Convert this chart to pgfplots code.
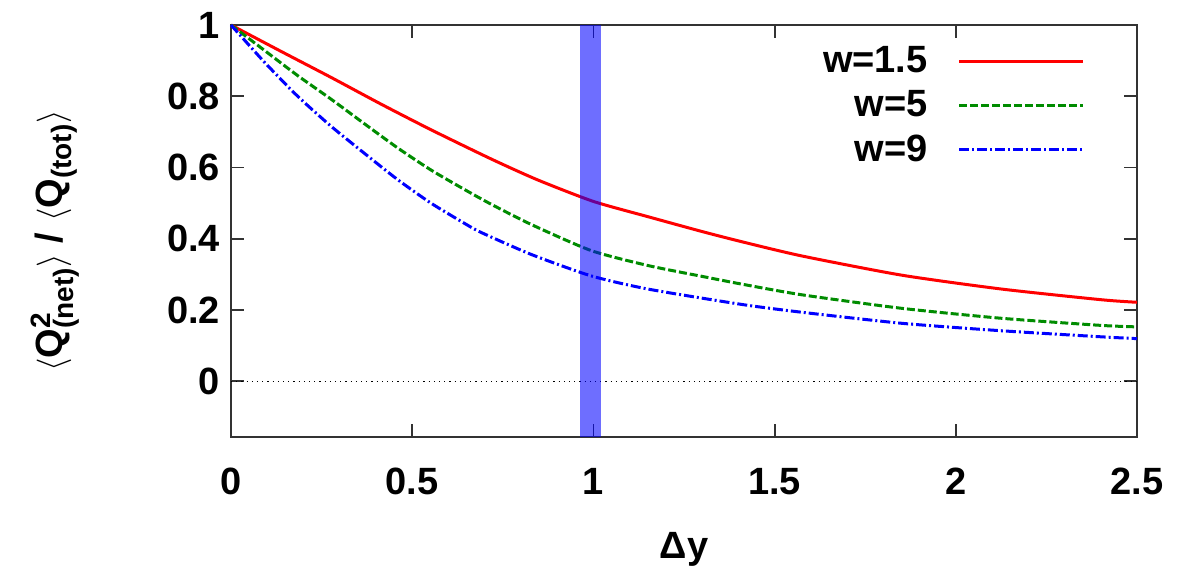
\documentclass[border=0pt]{standalone}
\usepackage{pgfplots}
\pgfplotsset{compat=1.18}
\usepackage{fontspec}
\setmainfont{Liberation Sans}
\definecolor{cred}{RGB}{255,0,0}
\definecolor{cgreen}{RGB}{0,140,0}
\definecolor{cblue}{RGB}{0,0,255}
\newcommand{\bigf}{\fontsize{19}{22}\selectfont\bfseries}
\newcommand{\smf}{\fontsize{14}{16}\selectfont\bfseries}
\begin{document}
\begin{tikzpicture}
\begin{axis}[
  scale only axis, width=453pt, height=206pt,
  xmin=0, xmax=2.5, ymin=-0.156, ymax=1,
  xtick={0,0.5,1,1.5,2,2.5},
  ytick={0,0.2,0.4,0.6,0.8,1},
  xticklabels={0,0.5,1,1.5,2,2.5},
  yticklabels={0,0.2,0.4,0.6,0.8,1},
  tick align=inside, major tick length=6.5pt,
  axis line style={black!80, line width=0.9pt},
  every tick/.style={black!80, line width=0.9pt},
  /pgf/number format/assume math mode=true,
  ticklabel style={font=\bigf},
  xticklabel style={yshift=-12pt},
  yticklabel style={xshift=-2pt},
  every axis x label/.style={at={(axis description cs:0.5,0)}, anchor=center, yshift=-56pt},
  every axis y label/.style={at={(axis description cs:-0.1943,0.476)}, anchor=center, rotate=90},
  xlabel={\bigf Δy},
  ylabel={\bigf $\langle$Q$^{\hbox{\smf 2}}_{\hbox{\smf(net)}}\rangle$ / $\langle$Q$_{\hbox{\smf(tot)}}\rangle$},
  legend plot pos=right,
  legend cell align=right,
  legend style={at={(rel axis cs:0.9426,0.958)}, anchor=north east, draw=none, fill=none,
    inner sep=0pt, font=\bigf, row sep=3.5pt,
    /tikz/every odd column/.append style={column sep=13pt}},
  legend image code/.code={\draw[#1] (0pt,0pt) -- (62pt,0pt);},
  clip=false,
]
\addplot[cred, line width=1.5pt, smooth, tension=0.4] coordinates {
(0,1) (0.138,0.926) (0.276,0.853) (0.414,0.778) (0.552,0.706) (0.718,0.624) (0.847,0.565) (1.0,0.505) (1.151,0.462) (1.298,0.421) (1.409,0.392) (1.575,0.352) (1.851,0.298) (2.127,0.259) (2.403,0.229) (2.5,0.222)};
\addlegendentry{w=1.5}
\addplot[cgreen, line width=1.5pt, smooth, tension=0.4, dash pattern=on 4pt off 1.5pt] coordinates {
(0,1) (0.092,0.929) (0.184,0.858) (0.276,0.792) (0.368,0.723) (0.46,0.655) (0.552,0.593) (0.645,0.538) (0.718,0.497) (0.829,0.44) (0.994,0.367) (1.151,0.325) (1.298,0.295) (1.409,0.273) (1.575,0.243) (1.851,0.205) (2.127,0.177) (2.403,0.157) (2.5,0.153)};
\addlegendentry{w=5}
\addplot[cblue, line width=1.5pt, smooth, tension=0.4, dash pattern=on 5pt off 1.5pt on 1pt off 1.5pt] coordinates {
(0,1) (0.092,0.896) (0.184,0.80) (0.276,0.716) (0.368,0.64) (0.46,0.566) (0.552,0.5) (0.645,0.443) (0.69,0.418) (0.829,0.356) (0.994,0.296) (1.151,0.259) (1.409,0.216) (1.575,0.194) (1.851,0.163) (2.127,0.142) (2.403,0.125) (2.5,0.12)};
\addlegendentry{w=9}
\addplot[black, line width=0.6pt, dotted, forget plot] coordinates {(0,0) (2.5,0)};
\addplot[draw=none, fill=blue, fill opacity=0.57, forget plot] coordinates {(0.963,-0.156) (1.022,-0.156) (1.022,1) (0.963,1)} -- cycle;
\coordinate (ll) at (rel axis cs:0,0);
\coordinate (ur) at (rel axis cs:1,1);
\end{axis}
\pgfresetboundingbox
\path ([shift={(-115.5pt,-69.5pt)}]ll) rectangle ([shift={(21.5pt,12.5pt)}]ur);
\end{tikzpicture}
\end{document}
